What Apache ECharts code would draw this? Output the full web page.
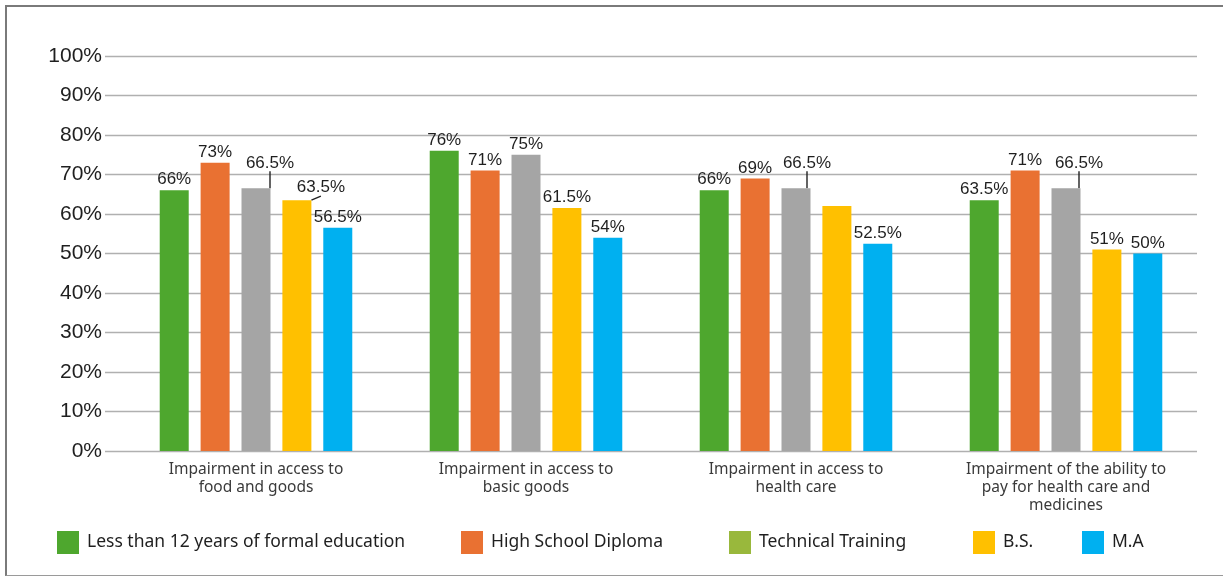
<!DOCTYPE html>
<html><head><meta charset="utf-8">
<script src="https://cdn.jsdelivr.net/npm/echarts@6/dist/echarts.min.js"></script>
<style>
html,body{margin:0;padding:0;background:#fff;overflow:hidden;}
#chart{position:absolute;left:0;top:0;width:1223px;height:583px;}
#frame{position:absolute;left:5px;top:5px;width:1240px;height:568px;border-left:2px solid #7a7a7a;border-top:2px solid #7a7a7a;border-bottom:1px solid #9a9a9a;pointer-events:none;}
</style></head><body>
<div id="chart"></div><div id="frame"></div>
<script>
// ---- data ----
const categories = [
  'Impairment in access to\nfood and goods',
  'Impairment in access to\nbasic goods',
  'Impairment in access to\nhealth care',
  'Impairment of the ability to\npay for health care and\nmedicines'
];
const seriesNames = ['Less than 12 years of formal education', 'High School Diploma', 'Technical Training', 'B.S.', 'M.A'];
const lessThan12 = [66, 76, 66, 63.5];
const highSchool = [73, 71, 69, 71];
const technical = [66.5, 75, 66.5, 66.5];
const bs = [63.5, 61.5, 62, 51];
const ma = [56.5, 54, 52.5, 50];
const yMin = 0, yMax = 100, yStep = 10;

// ---- styling ----
const barColors = ['#4EA72E', '#E97132', '#A5A5A5', '#FFC000', '#00B0F0'];
const legendColors = ['#4EA72E', '#E97132', '#99B83C', '#FFC000', '#00B0F0'];
const legendLefts = [57, 461, 729, 973, 1082];
const hiddenLabels = { 3: [2] };               // B.S. in group 3 has no label
const callouts = { 2: { 0: [14, -15], 2: [11, -15], 3: [13, -15] }, 3: { 0: [24, -2] } };

const allValues = [lessThan12, highSchool, technical, bs, ma];

const series = allValues.map((vals, si) => ({
  name: seriesNames[si],
  type: 'bar',
  xAxisIndex: 1,
  yAxisIndex: 1,
  barWidth: 29,
  barGap: '41%',
  itemStyle: { color: barColors[si] },
  label: {
    show: true, position: 'top', distance: 2,
    formatter: p => p.value + '%',
    fontFamily: 'Liberation Sans, Arial, sans-serif', fontSize: 17, color: '#1f1f1f'
  },
  labelLayout: p => {
    const c = callouts[si] && callouts[si][p.dataIndex];
    return c ? { dx: c[0], dy: c[1] } : {};
  },
  data: vals.map((v, i) => {
    const item = { value: v };
    if (hiddenLabels[si] && hiddenLabels[si].includes(i)) item.label = { show: false };
    if (callouts[si] && callouts[si][i]) item.labelLine = { show: true, lineStyle: { color: '#222', width: 1.4 } };
    return item;
  })
}));

const legends = seriesNames.map((n, i) => ({
  left: legendLefts[i], top: 531, padding: 0,
  icon: 'rect', itemWidth: 22, itemHeight: 23,
  selectedMode: false,
  data: [{ name: n, itemStyle: { color: legendColors[i] } }],
  textStyle: { fontFamily: 'Noto Sans, sans-serif', fontSize: 17.5, color: '#1f1f1f', padding: [0, 0, 0, 3] }
}));

const chart = echarts.init(document.getElementById('chart'), null, { renderer: 'canvas' });
chart.setOption({
  animation: false,
  backgroundColor: '#ffffff',
  legend: legends,
  grid: [
    { left: 105, right: 26, top: 56, bottom: 132 },
    { left: 121, right: 22, top: 56, bottom: 132 }
  ],
  xAxis: [
    { gridIndex: 0, type: 'category', data: categories, axisLine: { show: false }, axisTick: { show: false }, axisLabel: { show: false }, splitLine: { show: false } },
    { gridIndex: 1, type: 'category', data: categories, axisLine: { show: false }, axisTick: { show: false },
      axisLabel: { interval: 0, margin: 10, fontFamily: 'Noto Sans, sans-serif', fontSize: 15.5, lineHeight: 18, color: '#3a3a3a' } }
  ],
  yAxis: [
    { gridIndex: 0, type: 'value', min: yMin, max: yMax, interval: yStep,
      axisLine: { show: false }, axisTick: { show: false },
      axisLabel: { formatter: '{value}%', margin: 3, fontFamily: 'Liberation Sans, Arial, sans-serif', fontSize: 21, color: '#1f1f1f' },
      splitLine: { lineStyle: { color: '#b0b0b0', width: 1.4 } } },
    { gridIndex: 1, type: 'value', min: yMin, max: yMax, interval: yStep, show: false, splitLine: { show: false } }
  ],
  series: series
});
</script>
</body></html>
